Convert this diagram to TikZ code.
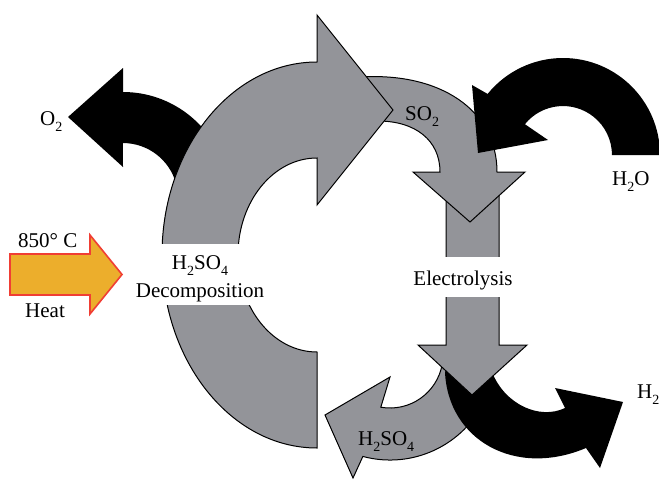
\documentclass[tikz,border=0pt]{standalone}
\usepackage{fontspec}
\setmainfont{Liberation Serif}
\newcommand\sbs[1]{\raisebox{-0.3em}{\fontsize{14}{14}\selectfont #1}}
\definecolor{arcgray}{RGB}{147,148,153}
\definecolor{heatfill}{RGB}{236,174,44}
\definecolor{heatline}{RGB}{240,62,52}
\begin{document}
\begin{tikzpicture}[x=1pt,y=-1pt,
  grayarrow/.style={fill=arcgray,draw=black,line width=1pt,line join=miter},
  blackarrow/.style={fill=black},
  heatarrow/.style={fill=heatfill,draw=heatline,line width=1.6pt,line join=miter},
  lbl/.style={inner sep=0pt,font=\fontsize{21}{24}\selectfont}]
\useasboundingbox (0,0) rectangle (659,480);

% O2 outlet (black), behind the big grey arc
\fill[blackarrow] (123,92) arc[start angle=270,end angle=345,radius=106]
  -- (176.1,183.8) arc[start angle=345,end angle=270,radius=55]
  -- (123,167) -- (68,117) -- (123,68) -- cycle;

% H2SO4 return arc (grey, lower)
\filldraw[grayarrow] (485.2,399.4) arc[start angle=25,end angle=105,radius=105]
  -- (353,478) -- (325,415) -- (390,377)
  -- (380.8,407.2) arc[start angle=100,end angle=10,radius=53] -- cycle;

% H2 outlet (black)
\fill[blackarrow] (455,356) -- (445,372) .. controls (448,440) and (515,478) .. (586,448)
  -- (600,468) -- (623,402) -- (555,388) -- (565,408)
  .. controls (540,420) and (505,405) .. (492,372) -- (480,358) -- cycle;

% Electrolysis vertical arrow
\filldraw[grayarrow] (446,185) -- (446,345) -- (418,345) -- (472,395)
  -- (527,345) -- (499,345) -- (499,185) -- cycle;

% SO2 arc
\filldraw[grayarrow] (352,80) -- (360,77) .. controls (440,72) and (497,110) .. (497,172)
  -- (525,172) -- (470,222) -- (413,172) -- (440,172)
  .. controls (440,140) and (415,121) .. (378,121) -- (350,122) -- cycle;

% Big H2SO4 decomposition arc
\filldraw[grayarrow] (317,448) arc[start angle=90,end angle=270,x radius=155,y radius=193]
  -- (317,15) -- (393,110) -- (317,205)
  -- (317,158) arc[start angle=270,end angle=90,x radius=79,y radius=97] -- cycle;

% H2O inlet (black)
\fill[blackarrow] (660,155) arc[start angle=360,end angle=219,radius=97]
  -- (472,85) -- (478,153) -- (548,140)
  -- (524.9,124.2) arc[start angle=219,end angle=360,radius=49] -- cycle;

% Heat arrow
\filldraw[heatarrow] (10,254) -- (90,254) -- (90,235) -- (122,274.5)
  -- (90,314) -- (90,295) -- (10,295) -- cycle;

% white backgrounds behind labels
\fill[white] (133,244) rectangle (267,305);
\fill[white] (440,257) rectangle (505,297);

% labels
\node[lbl,anchor=base west] (o2) at (40,125) {O\sbs{2}};
\node[lbl,anchor=base west] (temp) at (18,247) {850° C};
\node[lbl,anchor=base west] (heat) at (25,317) {Heat};
\node[lbl,anchor=base] (h2so4a) at (200,269) {H\sbs{2}SO\sbs{4}};
\node[lbl,anchor=base] (decomp) at (200,297) {Decomposition};
\node[lbl,anchor=base] (elec) at (463,285) {Electrolysis};
\node[lbl,anchor=base west] (so2) at (405,120) {SO\sbs{2}};
\node[lbl,anchor=base west] (h2o) at (612,185) {H\sbs{2}O};
\node[lbl,anchor=base west] (h2) at (637,398) {H\sbs{2}};
\node[lbl,anchor=base west] (h2so4b) at (358,445) {H\sbs{2}SO\sbs{4}};
\end{tikzpicture}
\end{document}
